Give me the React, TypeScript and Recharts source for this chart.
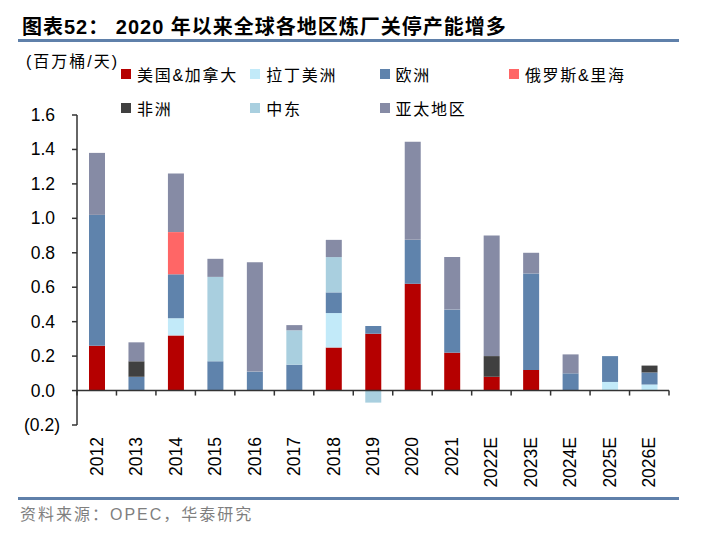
import React from "react"
import { Bar, BarChart, Legend, ReferenceLine, XAxis, YAxis } from "recharts"

const years = [
  "2012", "2013", "2014", "2015", "2016", "2017", "2018", "2019",
  "2020", "2021", "2022E", "2023E", "2024E", "2025E", "2026E",
]

// 百万桶/天
const usCanada = [0.26, 0, 0.32, 0, 0, 0, 0.25, 0.33, 0.62, 0.22, 0.08, 0.12, 0, 0, 0]
const latinAmerica = [0, 0, 0.1, 0, 0, 0, 0.2, 0, 0, 0, 0, 0, 0, 0.05, 0.035]
const europe = [0.76, 0.08, 0.255, 0.17, 0.11, 0.15, 0.12, 0.045, 0.255, 0.25, 0, 0.56, 0.1, 0.15, 0.07]
const russiaCaspian = [0, 0, 0.245, 0, 0, 0, 0, 0, 0, 0, 0, 0, 0, 0, 0]
const africa = [0, 0.09, 0, 0, 0, 0, 0, 0, 0, 0, 0.12, 0, 0, 0, 0.04]
const middleEast = [0, 0, 0, 0.49, 0, 0.2, 0.205, -0.07, 0, 0, 0, 0, 0, 0, 0]
const asiaPacific = [0.36, 0.11, 0.34, 0.105, 0.635, 0.03, 0.1, 0, 0.57, 0.305, 0.7, 0.12, 0.11, 0, 0]

const yTicks = [-0.2, 0, 0.2, 0.4, 0.6, 0.8, 1.0, 1.2, 1.4, 1.6]

const series = [
  { key: "usCanada", name: "美国&加拿大", color: "#b50000", values: usCanada },
  { key: "latinAmerica", name: "拉丁美洲", color: "#c2eaf9", values: latinAmerica },
  { key: "europe", name: "欧洲", color: "#5f83ac", values: europe },
  { key: "russiaCaspian", name: "俄罗斯&里海", color: "#ff6666", values: russiaCaspian },
  { key: "africa", name: "非洲", color: "#404040", values: africa },
  { key: "middleEast", name: "中东", color: "#a9cfdf", values: middleEast },
  { key: "asiaPacific", name: "亚太地区", color: "#868ba5", values: asiaPacific },
]

const data = years.map((year, i) => {
  const row: Record<string, string | number> = { year }
  series.forEach((s) => {
    row[s.key] = s.values[i]
  })
  return row
})

const W = 702
const H = 539
const TOP = 115
const BOTTOM = 425
const LEFT = 77
const RIGHT = 669
const Y_MIN = -0.2
const Y_MAX = 1.6

const FONT = '"Liberation Sans", Arial, "Noto Sans CJK SC", sans-serif'
const LINE = "#5f80aa"
const AXIS = "#333333"

const YTick = (props: any) => {
  const { x, y, payload } = props
  const v = payload.value
  const label = v < 0 ? `(${Math.abs(v).toFixed(1)})` : v.toFixed(1)
  return (
    <text
      x={v < 0 ? x + 5 : x}
      y={y}
      textAnchor="end"
      dominantBaseline="central"
      fontSize={17.5}
      fontFamily={FONT}
      fill="#000"
    >
      {label}
    </text>
  )
}

const XTick = (props: any) => {
  const { x, y, payload, index } = props
  const half = payload.offset || (RIGHT - LEFT) / years.length / 2
  const zeroY = y - ((0 - Y_MIN) / (Y_MAX - Y_MIN)) * (BOTTOM - TOP)
  return (
    <g>
      <line x1={x - half} x2={x - half} y1={zeroY} y2={zeroY + 5} stroke={AXIS} strokeWidth={1.5} />
      {index === years.length - 1 && (
        <line x1={x + half} x2={x + half} y1={zeroY} y2={zeroY + 5} stroke={AXIS} strokeWidth={1.5} />
      )}
      <text
        x={x}
        y={y + 12}
        transform={`rotate(-90, ${x}, ${y + 12})`}
        textAnchor="end"
        dominantBaseline="central"
        fontSize={17.5}
        fontFamily={FONT}
        fill="#000"
      >
        {payload.value}
      </text>
    </g>
  )
}

const LegendContent = () => (
  <div
    style={{
      display: "grid",
      gridTemplateColumns: "repeat(4, 129.3px)",
      gridAutoRows: "34px",
      alignItems: "center",
      fontFamily: FONT,
      fontSize: 16,
      letterSpacing: 1.7,
      color: "#000",
    }}
  >
    {series.map((s) => (
      <div key={s.key} style={{ display: "flex", alignItems: "center", whiteSpace: "nowrap" }}>
        <span style={{ width: 10, height: 10, background: s.color, marginRight: 6, display: "inline-block" }} />
        <span>{s.name}</span>
      </div>
    ))}
  </div>
)

export default function App() {
  return (
    <div style={{ position: "absolute", left: 0, top: 0, width: W, height: H, background: "#fff", fontFamily: FONT }}>
      <div
        style={{
          position: "absolute",
          left: 22,
          top: 15,
          fontSize: 20,
          lineHeight: "24px",
          fontWeight: "bold",
          letterSpacing: 1,
          whiteSpace: "nowrap",
          color: "#000",
        }}
      >
        图表52： 2020 年以来全球各地区炼厂关停产能增多
      </div>
      <div style={{ position: "absolute", left: 18, top: 39, width: 661, height: 2.5, background: LINE }} />
      <div
        style={{
          position: "absolute",
          left: 26,
          top: 51,
          fontSize: 16,
          lineHeight: "22px",
          letterSpacing: 2,
          whiteSpace: "nowrap",
          color: "#000",
        }}
      >
        (百万桶/天)
      </div>

      <BarChart
        width={W}
        height={H}
        data={data}
        stackOffset="sign"
        margin={{ top: TOP, bottom: 0, left: 0, right: W - RIGHT }}
      >
        <XAxis
          dataKey="year"
          axisLine={false}
          tickLine={false}
          tickSize={0}
          tickMargin={0}
          interval={0}
          height={H - BOTTOM}
          tick={<XTick />}
        />
        <YAxis
          domain={[Y_MIN, Y_MAX]}
          ticks={yTicks}
          interval={0}
          width={LEFT}
          axisLine={{ stroke: AXIS, strokeWidth: 1.5 }}
          tickLine={{ stroke: AXIS, strokeWidth: 1.5 }}
          tickSize={5}
          tickMargin={17}
          tick={<YTick />}
        />
        <Legend
          layout="horizontal"
          verticalAlign="middle"
          align="center"
          wrapperStyle={{ top: 57, left: 121, width: 560, height: 70 }}
          content={<LegendContent />}
        />
        {series.map((s) => (
          <Bar
            key={s.key}
            dataKey={s.key}
            name={s.name}
            stackId="a"
            fill={s.color}
            barSize={16}
            isAnimationActive={false}
          />
        ))}
        <ReferenceLine y={0} stroke={AXIS} strokeWidth={1.5} ifOverflow="visible" />
      </BarChart>

      <div style={{ position: "absolute", left: 18, top: 497, width: 661, height: 2.5, background: LINE }} />
      <div
        style={{
          position: "absolute",
          left: 20,
          top: 504,
          fontSize: 16,
          lineHeight: "22px",
          letterSpacing: 2,
          whiteSpace: "nowrap",
          color: "#7f7f7f",
        }}
      >
        资料来源：OPEC，华泰研究
      </div>
    </div>
  )
}
